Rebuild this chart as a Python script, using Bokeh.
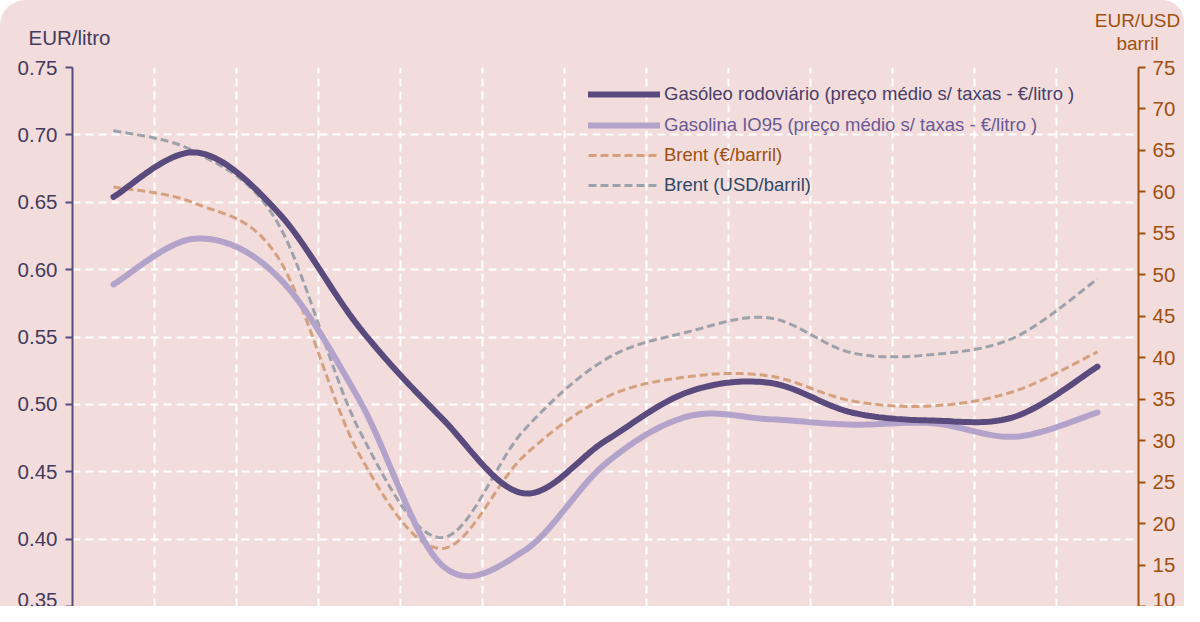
import numpy as np
from bokeh.plotting import figure
from bokeh.layouts import column
from bokeh.models import (Range1d, LinearAxis, FixedTicker, Legend, LegendItem,
                          CustomJSTickFormatter)
from bokeh.core.properties import value
from bokeh.embed import file_html
from bokeh.resources import INLINE

periods = list(range(13))
gasoleo = [0.654, 0.687, 0.643, 0.557, 0.490, 0.434, 0.473, 0.509, 0.516, 0.494, 0.488, 0.491, 0.528]
gasolina = [0.589, 0.623, 0.595, 0.503, 0.381, 0.391, 0.456, 0.491, 0.489, 0.485, 0.486, 0.476, 0.494]
brent_eur = [60.6, 58.6, 52.2, 28.3, 17.0, 28.1, 35.2, 37.7, 37.8, 34.8, 34.2, 36.0, 40.7]
brent_usd = [67.4, 64.8, 56.3, 31.2, 18.3, 31.2, 39.8, 43.1, 44.8, 40.6, 40.4, 42.5, 49.5]

left_ticks = [0.35, 0.40, 0.45, 0.50, 0.55, 0.60, 0.65, 0.70, 0.75]
right_ticks = list(range(10, 80, 5))
left_title = "EUR/litro"
right_title = ["EUR/USD", "barril"]

BG = "#f2dcdc"
DARK = "#5a4a7e"
LIGHT = "#b3a2ca"
ORANGE = "#d5a07e"
GREY = "#9ca1ab"
BROWN = "#a0500f"
FONT = "Liberation Sans"
W = 1184
HEAD_H = 55


def smooth(xs, ys, n=24):
    """Excel-like smoothed line: cubic Bezier segments with Catmull-Rom control points."""
    xs = np.asarray(xs, float)
    ys = np.asarray(ys, float)
    px = np.concatenate([[xs[0]], xs, [xs[-1]]])
    py = np.concatenate([[ys[0]], ys, [ys[-1]]])
    outx, outy = [], []
    t = np.linspace(0, 1, n, endpoint=False)
    for i in range(len(xs) - 1):
        p0x, p0y = px[i + 1], py[i + 1]
        p3x, p3y = px[i + 2], py[i + 2]
        c1x = p0x + (p3x - px[i]) / 6.0
        c1y = p0y + (p3y - py[i]) / 6.0
        c2x = p3x - (px[i + 3] - p0x) / 6.0
        c2y = p3y - (py[i + 3] - p0y) / 6.0
        b0 = (1 - t) ** 3
        b1 = 3 * (1 - t) ** 2 * t
        b2 = 3 * (1 - t) * t ** 2
        b3 = t ** 3
        outx.extend(b0 * p0x + b1 * c1x + b2 * c2x + b3 * p3x)
        outy.extend(b0 * p0y + b1 * c1y + b2 * c2y + b3 * p3y)
    outx.append(xs[-1])
    outy.append(ys[-1])
    return outx, outy


# ---- header strip with the axis titles ----
h = figure(width=W, height=HEAD_H, output_backend="svg", toolbar_location=None,
           x_range=Range1d(0, W), y_range=Range1d(HEAD_H, 0),
           x_axis_location=None, y_axis_location=None,
           min_border_left=0, min_border_right=0, min_border_top=0, min_border_bottom=0)
h.frame_align = False
h.background_fill_color = BG
h.border_fill_color = BG
h.outline_line_color = None
h.xgrid.visible = False
h.ygrid.visible = False
h.text(x=[28], y=[37], text=[left_title], text_color="#433b5c", text_font=value(FONT),
       text_font_size="20.5px", text_baseline="middle", text_align="left")
h.text(x=[1137, 1137], y=[20, 43], text=right_title, text_color=BROWN, text_font=value(FONT),
       text_font_size="19px", text_baseline="middle", text_align="center")

# ---- main chart ----
p = figure(width=W, height=606 - HEAD_H, output_backend="svg", toolbar_location=None,
           x_range=Range1d(-0.5, 12.5), y_range=Range1d(0.35, 0.75),
           x_axis_location=None, min_border_left=72, min_border_right=46,
           min_border_top=67 - HEAD_H, min_border_bottom=0)
p.frame_align = False
p.background_fill_color = BG
p.border_fill_color = BG
p.outline_line_color = None
p.extra_y_ranges = {"brent": Range1d(10, 75)}

# grid
p.xgrid.ticker = FixedTicker(ticks=[k + 0.5 for k in range(12)])
p.xgrid.grid_line_color = "white"
p.xgrid.grid_line_width = 2
p.xgrid.grid_line_dash = "8 5"
p.ygrid.grid_line_color = "white"
p.ygrid.grid_line_width = 2
p.ygrid.grid_line_dash = "8 5"

# left axis
ax = p.yaxis[0]
ax.ticker = FixedTicker(ticks=left_ticks)
ax.formatter = CustomJSTickFormatter(code="return tick.toFixed(2);")
ax.axis_line_color = DARK
ax.axis_line_width = 2
ax.major_tick_line_color = DARK
ax.major_tick_line_width = 2
ax.major_tick_out = 7
ax.major_tick_in = 0
ax.minor_tick_line_color = None
ax.major_label_text_color = "#433b5c"
ax.major_label_text_font = FONT
ax.major_label_text_font_size = "20.5px"
ax.major_label_standoff = 8

# right axis
rax = LinearAxis(y_range_name="brent", ticker=FixedTicker(ticks=right_ticks))
rax.axis_line_color = BROWN
rax.axis_line_width = 2
rax.major_tick_line_color = BROWN
rax.major_tick_line_width = 2
rax.major_tick_out = 7
rax.major_tick_in = 0
rax.minor_tick_line_color = None
rax.major_label_text_color = BROWN
rax.major_label_text_font = FONT
rax.major_label_text_font_size = "20.5px"
rax.major_label_standoff = 7
p.add_layout(rax, "right")

# series
ux, uy = smooth(periods, brent_usd)
r_usd = p.line(ux, uy, y_range_name="brent", line_color=GREY, line_width=3, line_dash="8 4")
ex, ey = smooth(periods, brent_eur)
r_eur = p.line(ex, ey, y_range_name="brent", line_color=ORANGE, line_width=3, line_dash="8 4")
lx, ly = smooth(periods, gasolina)
r_gas = p.line(lx, ly, line_color=LIGHT, line_width=6, line_cap="round")
dx, dy = smooth(periods, gasoleo)
r_dsl = p.line(dx, dy, line_color=DARK, line_width=6, line_cap="round")

entries = [
    ("Gasóleo rodoviário (preço médio s/ taxas - €/litro )", r_dsl, "#4a3e68", 501),
    ("Gasolina IO95 (preço médio s/ taxas - €/litro )", r_gas, "#6a5a95", 470),
    ("Brent (€/barril)", r_eur, BROWN, 440),
    ("Brent (USD/barril)", r_usd, "#2f4866", 410),
]
for lab, rend, col, vy in entries:
    lg = Legend(items=[LegendItem(label=lab, renderers=[rend])], location=(516, vy),
                background_fill_alpha=0, border_line_color=None, padding=0, margin=0,
                glyph_width=72, glyph_height=20, label_height=20, label_standoff=4,
                label_text_color=col, label_text_font=FONT, label_text_font_size="18.5px",
                label_text_baseline="middle")
    p.add_layout(lg)

page = column(h, p, spacing=0)
page.styles = {"border-top-left-radius": "26px", "border-top-right-radius": "22px",
               "overflow": "hidden", "background-color": BG}

open("out.html", "w").write(file_html(page, INLINE))
